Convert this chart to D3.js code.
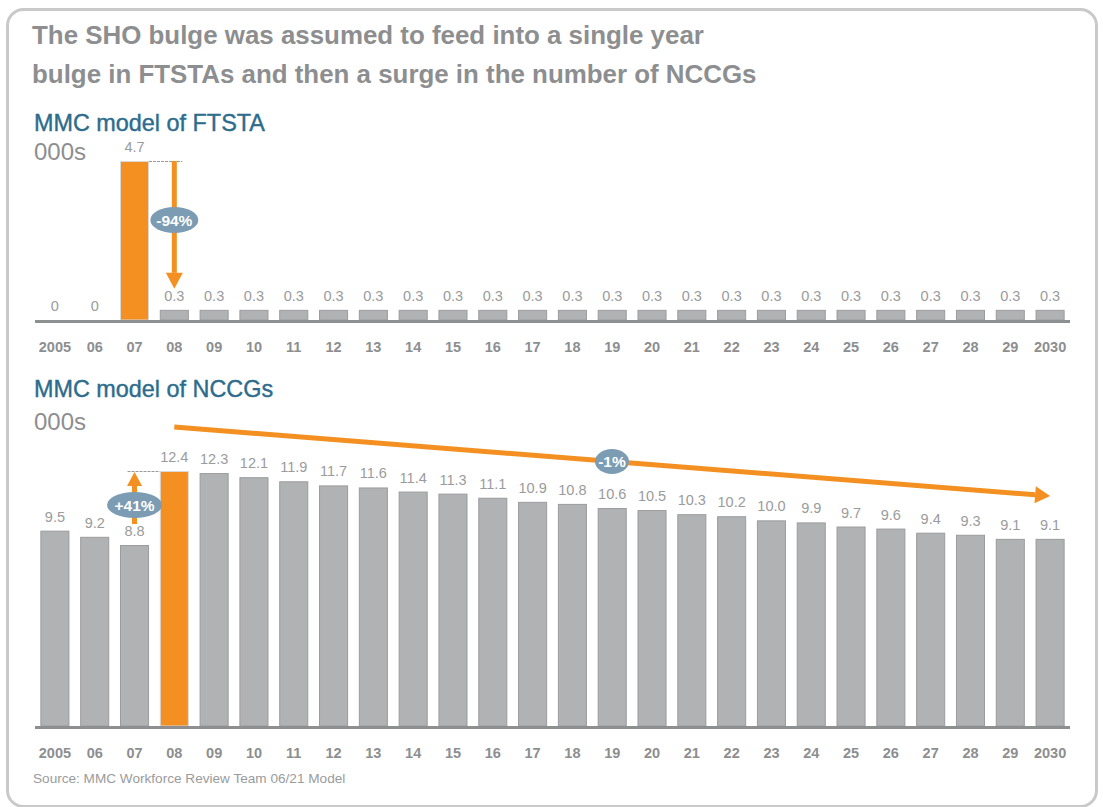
<!DOCTYPE html>
<html><head><meta charset="utf-8">
<script src="https://cdn.jsdelivr.net/npm/d3@7"></script>
<style>
html,body{margin:0;padding:0;background:#fff;}
svg{display:block;}
</style></head>
<body>
<svg id="chart" width="1103" height="807"></svg>
<script>
const years = ["2005","06","07","08","09","10","11","12","13","14","15","16","17","18","19","20","21","22","23","24","25","26","27","28","29","2030"];
const ftsta = [0,0,4.7,0.3,0.3,0.3,0.3,0.3,0.3,0.3,0.3,0.3,0.3,0.3,0.3,0.3,0.3,0.3,0.3,0.3,0.3,0.3,0.3,0.3,0.3,0.3];
const nccg = [9.5,9.2,8.8,12.4,12.3,12.1,11.9,11.7,11.6,11.4,11.3,11.1,10.9,10.8,10.6,10.5,10.3,10.2,10.0,9.9,9.7,9.6,9.4,9.3,9.1,9.1];
const ftstaLabels = ftsta.map(v => v === 0 ? "0" : v.toFixed(1));
const nccgLabels = nccg.map(v => v.toFixed(1));
const highlightFtsta = "07";
const highlightNccg = "08";
const titleLines = ["The SHO bulge was assumed to feed into a single year","bulge in FTSTAs and then a surge in the number of NCCGs"];
const notes = {ftstaChange:"-94%", nccgJump:"+41%", nccgTrend:"-1%"};

const svg = d3.select("#chart");
const GRAY = "#b1b2b4", GRAYSTROKE = "#9c9c9e", ORANGE = "#f39021", NOTE = "#7b9cb2";
const FONT = "'Liberation Sans', Arial, sans-serif";

// frame
svg.append("rect").attr("x",7.5).attr("y",9.5).attr("width",1089).attr("height",797)
  .attr("rx",16).attr("fill","none").attr("stroke","#c9c9ca").attr("stroke-width",3);

// title
svg.append("g").selectAll("text").data(titleLines).join("text")
  .attr("x",32).attr("y",(d,i)=>44+i*39)
  .attr("font-family",FONT).attr("font-weight","bold").attr("font-size",25.9)
  .attr("fill","#8d8e90").text(d=>d);

const x = d3.scaleBand().domain(years).range([35,1070]).paddingInner(0.27).paddingOuter(0.135);

function subtitle(txt, y){
  svg.append("text").attr("x",34).attr("y",y).attr("font-family",FONT)
    .attr("font-size",23.4).attr("fill","#2d6c8c").attr("stroke","#2d6c8c").attr("stroke-width",0.4).text(txt);
}
function unit(y){
  svg.append("text").attr("x",34).attr("y",y).attr("font-family",FONT)
    .attr("font-size",24).attr("fill","#8d8e90").text("000s");
}

function panel(values, labels, hl, y){
  const g = svg.append("g");
  g.selectAll("rect.bar").data(values).join("rect").attr("class","bar")
    .attr("x",(d,i)=>x(years[i])+0.5).attr("width",x.bandwidth()-1)
    .attr("y",d=>y(d)+0.5).attr("height",d=>Math.max(0,y(0)-y(d)-0.5))
    .attr("fill",(d,i)=>years[i]===hl?ORANGE:GRAY)
    .attr("stroke",(d,i)=>years[i]===hl?"#d9d9d9":GRAYSTROKE).attr("stroke-width",1);
  g.selectAll("text.val").data(values).join("text").attr("class","val")
    .attr("x",(d,i)=>x(years[i])+x.bandwidth()/2).attr("y",d=>y(d)-9)
    .attr("text-anchor","middle").attr("font-family",FONT).attr("font-size",14.5)
    .attr("fill","#9a9b9d").text((d,i)=>labels[i]);
  const ax = g.append("g").attr("transform",`translate(0,${y(0)+1.5})`)
    .call(d3.axisBottom(x).tickSize(0).tickPadding(20));
  ax.select(".domain").attr("stroke","#8e8f91").attr("stroke-width",3).attr("d",`M35,0H1070`);
  ax.selectAll("text").attr("font-family",FONT).attr("font-weight","bold").attr("font-size",14.5).attr("fill","#8d8e90");
  return g;
}

function note(cx, cy, rx, ry, txt){
  svg.append("ellipse").attr("cx",cx).attr("cy",cy).attr("rx",rx).attr("ry",ry).attr("fill",NOTE);
  svg.append("text").attr("x",cx).attr("y",cy+5.5).attr("text-anchor","middle")
    .attr("font-family",FONT).attr("font-weight","bold").attr("font-size",15.5).attr("fill","#fff").text(txt);
}
function arrow(x1,y1,x2,y2,w,hl,hw){
  const ang = Math.atan2(y2-y1,x2-x1);
  const bx = x2 - hl*Math.cos(ang), by = y2 - hl*Math.sin(ang);
  svg.append("line").attr("x1",x1).attr("y1",y1).attr("x2",bx).attr("y2",by)
    .attr("stroke",ORANGE).attr("stroke-width",w);
  const px = -Math.sin(ang)*hw/2, py = Math.cos(ang)*hw/2;
  svg.append("path").attr("d",`M${x2},${y2}L${bx+px},${by+py}L${bx-px},${by-py}Z`).attr("fill",ORANGE);
}

// top panel
subtitle("MMC model of FTSTA",131); unit(160);
const yTop = d3.scaleLinear().domain([0,4.7]).range([320,161]);
panel(ftsta, ftstaLabels, highlightFtsta, yTop);
const cTop = x("08")+x.bandwidth()/2;
svg.append("line").attr("x1",x("07")+x.bandwidth()).attr("x2",cTop+8)
  .attr("y1",yTop(4.7)+0.5).attr("y2",yTop(4.7)+0.5)
  .attr("stroke","#9a9a9a").attr("stroke-width",1).attr("stroke-dasharray","3,1");
arrow(cTop, yTop(4.7), cTop, yTop(0.3)-21, 5, 16, 17);
note(cTop, 220, 24, 13, notes.ftstaChange);

// bottom panel
subtitle("MMC model of NCCGs",397); unit(430);
const yBot = d3.scaleLinear().domain([0,12.4]).range([726,471]);
panel(nccg, nccgLabels, highlightNccg, yBot);
const c07 = x("07")+x.bandwidth()/2;
svg.append("line").attr("x1",c07-7).attr("x2",x("08"))
  .attr("y1",yBot(12.4)+0.5).attr("y2",yBot(12.4)+0.5)
  .attr("stroke","#9a9a9a").attr("stroke-width",1).attr("stroke-dasharray","3,1");
arrow(c07, yBot(8.8)-21, c07, yBot(12.4)+1, 5, 14, 15);
note(c07, 505, 27.5, 13, notes.nccgJump);

// trend arrow
const c08 = x("08")+x.bandwidth()/2;
const tx2 = x("2030")+x.bandwidth()/2;
arrow(c08, 427, tx2, 496, 5, 15, 17);
const mx = 612, my = 427 + (496-427)*(mx-c08)/(tx2-c08);
note(mx, my, 17, 12.5, notes.nccgTrend);

// source
svg.append("text").attr("x",33).attr("y",783).attr("font-family",FONT).attr("font-size",13.6)
  .attr("fill","#9a9b9d").text("Source: MMC Workforce Review Team 06/21 Model");
</script>
</body></html>
